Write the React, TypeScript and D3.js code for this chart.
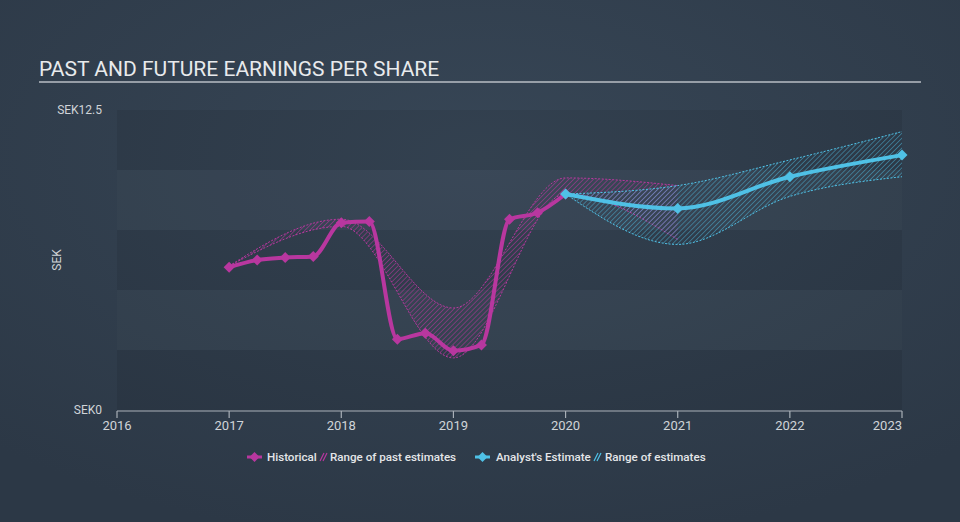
import React from "react";
import * as d3 from "d3";

const yearTicks = [2016, 2017, 2018, 2019, 2020, 2021, 2022, 2023];
const yTickLabels = ["SEK0", "SEK12.5"];
const yTickValues = [0, 12.5];

const histX = [2017, 2017.25, 2017.5, 2017.75, 2018, 2018.25, 2018.5, 2018.75, 2019, 2019.25, 2019.5, 2019.75, 2020];
const histY = [5.95, 6.25, 6.35, 6.4, 7.8, 7.85, 2.95, 3.2, 2.47, 2.71, 7.95, 8.22, 9.0];

const pastRangeX = [2017, 2018, 2019, 2020, 2021];
const pastRangeHigh = [6.0, 7.95, 4.25, 9.67, 9.35];
const pastRangeLow = [6.0, 7.65, 2.17, 9.0, 7.1];

const fcX = [2020, 2021, 2022, 2023];
const fcY = [9.0, 8.4, 9.72, 10.62];
const fcHigh = [9.0, 9.35, 10.42, 11.6];
const fcLow = [9.0, 6.9, 8.9, 9.72];

const PINK = "#b8379f";
const BLUE = "#4fc1e6";

export default function App() {
  const W = 960, H = 522;
  const x = d3.scaleLinear().domain([2016, 2023]).range([117, 902]);
  const y = d3.scaleLinear().domain([0, 12.5]).range([410, 110]);

  const line = d3.line<[number, number]>().x(d => x(d[0])).y(d => y(d[1])).curve(d3.curveMonotoneX);
  const area = d3.area<[number, number, number]>()
    .x(d => x(d[0])).y0(d => y(d[1])).y1(d => y(d[2])).curve(d3.curveMonotoneX);
  const lineHi = d3.line<[number, number, number]>().x(d => x(d[0])).y(d => y(d[2])).curve(d3.curveMonotoneX);
  const lineLo = d3.line<[number, number, number]>().x(d => x(d[0])).y(d => y(d[1])).curve(d3.curveMonotoneX);

  const hist: [number, number][] = histX.map((v, i) => [v, histY[i]]);
  const fc: [number, number][] = fcX.map((v, i) => [v, fcY[i]]);
  const past: [number, number, number][] = pastRangeX.map((v, i) => [v, pastRangeLow[i], pastRangeHigh[i]]);
  const fut: [number, number, number][] = fcX.map((v, i) => [v, fcLow[i], fcHigh[i]]);

  const bands = d3.range(0, 12.5, 2.5);
  const diamond = (cx: number, cy: number, r: number) => `M${cx},${cy - r}L${cx + r},${cy}L${cx},${cy + r}L${cx - r},${cy}Z`;

  const font = "Roboto, 'Noto Sans', sans-serif";

  return (
    <svg width={W} height={H} style={{ position: "absolute", left: 0, top: 0, display: "block" }} fontFamily={font}>
      <defs>
        <radialGradient id="bg" cx="50%" cy="30%" r="75%">
          <stop offset="0%" stopColor="#374656" />
          <stop offset="100%" stopColor="#2c3846" />
        </radialGradient>
        <pattern id="hatchPink" patternUnits="userSpaceOnUse" width="3.5" height="3.5" patternTransform="rotate(45)">
          <line x1="0" y1="0" x2="0" y2="3.5" stroke={PINK} strokeWidth="1.2" strokeOpacity="0.85" />
        </pattern>
        <pattern id="hatchBlue" patternUnits="userSpaceOnUse" width="3.5" height="3.5" patternTransform="rotate(45)">
          <line x1="0" y1="0" x2="0" y2="3.5" stroke={BLUE} strokeWidth="1.2" strokeOpacity="0.7" />
        </pattern>
      </defs>
      <rect x={0} y={0} width={W} height={H} fill="url(#bg)" />

      <text x={39} y={76} fontSize={21} fill="#e8eaec">PAST AND FUTURE EARNINGS PER SHARE</text>
      <line x1={39} x2={921} y1={82} y2={82} stroke="#b9bec4" strokeWidth={1.5} />

      {bands.map((b, i) => (
        <rect key={b} x={x(2016)} width={x(2023) - x(2016)} y={y(b + 2.5)} height={y(b) - y(b + 2.5)}
          fill={i % 2 === 0 ? "rgba(0,0,0,0.07)" : "rgba(255,255,255,0.015)"} />
      ))}

      {yTickValues.map((v, i) => (
        <text key={v} x={102} y={y(v)} dy="0.35em" textAnchor="end" fontSize={12} fill="#d0d4d8">{yTickLabels[i]}</text>
      ))}
      <text transform={`translate(61,${(y(0) + y(12.5)) / 2}) rotate(-90)`} textAnchor="middle" fontSize={12} fill="#d0d4d8">SEK</text>

      <line x1={x(2016)} x2={x(2023)} y1={411} y2={411} stroke="#a9b0b8" strokeWidth={1.2} />
      {yearTicks.map((t, i) => (
        <g key={t}>
          <line x1={x(t)} x2={x(t)} y1={411} y2={418} stroke="#a9b0b8" strokeWidth={1.2} />
          <text x={x(t)} y={430} textAnchor={i === yearTicks.length - 1 ? "end" : "middle"} fontSize={13} fill="#d0d4d8">{t}</text>
        </g>
      ))}

      <path d={area(past) || ""} fill="url(#hatchPink)" />
      <path d={lineHi(past) || ""} fill="none" stroke={PINK} strokeWidth={1} strokeDasharray="2,1.5" />
      <path d={lineLo(past) || ""} fill="none" stroke={PINK} strokeWidth={1} strokeDasharray="2,1.5" />

      <path d={area(fut) || ""} fill="url(#hatchBlue)" />
      <path d={lineHi(fut) || ""} fill="none" stroke={BLUE} strokeWidth={1} strokeDasharray="2,1.5" />
      <path d={lineLo(fut) || ""} fill="none" stroke={BLUE} strokeWidth={1} strokeDasharray="2,1.5" />

      <path d={line(hist) || ""} fill="none" stroke={PINK} strokeWidth={4} strokeLinejoin="round" />
      {hist.map((d, i) => <path key={i} d={diamond(x(d[0]), y(d[1]), 5.5)} fill={PINK} />)}

      <path d={line(fc) || ""} fill="none" stroke={BLUE} strokeWidth={4} strokeLinejoin="round" />
      {fc.map((d, i) => <path key={i} d={diamond(x(d[0]), y(d[1]), 5.5)} fill={BLUE} />)}

      <g fontSize={11.6} fontWeight={500} fill="#e4e6e8">
        <line x1={247} x2={262} y1={457} y2={457} stroke={PINK} strokeWidth={3} />
        <path d={diamond(254.5, 457, 5)} fill={PINK} />
        <text x={267} y={461}>Historical</text>
        <path d="M320,461L324,453M323,461L327,453" stroke={PINK} strokeWidth={1.2} />
        <text x={330} y={461}>Range of past estimates</text>
        <line x1={475} x2={490} y1={457} y2={457} stroke={BLUE} strokeWidth={3} />
        <path d={diamond(482.5, 457, 5)} fill={BLUE} />
        <text x={496} y={461}>Analyst's Estimate</text>
        <path d="M594,461L598,453M597,461L601,453" stroke={BLUE} strokeWidth={1.2} />
        <text x={605} y={461}>Range of estimates</text>
      </g>
    </svg>
  );
}
